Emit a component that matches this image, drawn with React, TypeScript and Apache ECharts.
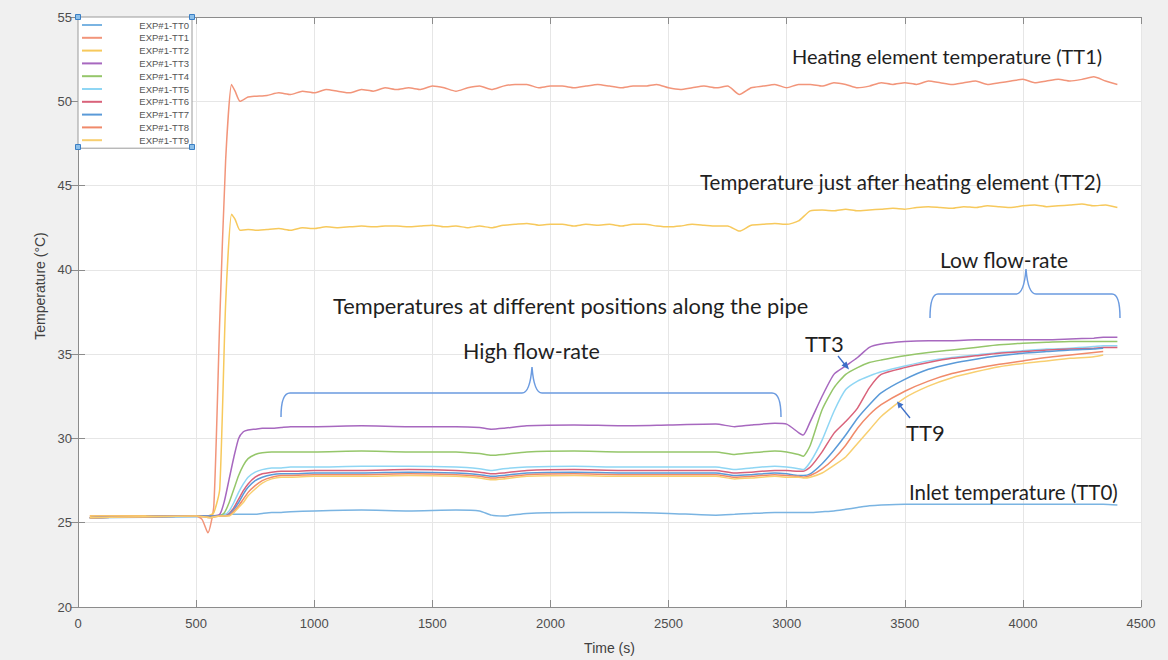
import React, { useEffect, useRef } from "react";
import * as echarts from "echarts";

const seriesNames = [
  "EXP#1-TT0", "EXP#1-TT1", "EXP#1-TT2", "EXP#1-TT3", "EXP#1-TT4",
  "EXP#1-TT5", "EXP#1-TT6", "EXP#1-TT7", "EXP#1-TT8", "EXP#1-TT9",
];
const seriesColors = [
  "#7ab4e2", "#f2957a", "#f7c95c", "#a768bf", "#95c66a",
  "#8fd6f4", "#d9627a", "#5a9ad8", "#f08a6a", "#f8cf70",
];

// time grid for heater curves (s)
const tFine = [
  50, 500, 525, 550, 575, 600, 625, 650, 665, 686, 720, 750,
  800, 850, 900, 950, 1000, 1050, 1100, 1150, 1200, 1250, 1300, 1350, 1400, 1450,
  1500, 1550, 1600, 1650, 1700, 1750, 1800, 1850, 1900, 1950, 2000, 2050, 2100, 2150,
  2200, 2250, 2300, 2350, 2400, 2450, 2500, 2550, 2600, 2650, 2700, 2750, 2800, 2850,
  2900, 2950, 3000, 3050, 3100, 3150, 3200, 3250, 3300, 3350, 3400, 3450, 3500, 3550,
  3600, 3650, 3700, 3750, 3800, 3850, 3900, 3950, 4000, 4050, 4100, 4150, 4200, 4250,
  4300, 4350, 4400,
];
const tt1 = [
  25.4, 25.4, 25.2, 24.4, 26.0, 37.0, 46.5, 51.0, 50.6, 50.0, 50.25, 50.3,
  50.35, 50.5, 50.4, 50.6, 50.5, 50.7, 50.6, 50.5, 50.7, 50.6, 50.8, 50.7, 50.8, 50.7,
  50.9, 50.8, 50.6, 50.8, 50.9, 50.7, 50.9, 51.0, 51.0, 50.8, 50.9, 50.9, 50.8, 50.9,
  51.0, 50.9, 50.8, 50.9, 50.9, 51.0, 50.8, 50.7, 50.8, 50.9, 50.8, 50.9, 50.4, 50.8,
  50.9, 51.0, 50.8, 51.0, 51.0, 50.9, 51.1, 51.0, 50.8, 50.9, 51.1, 51.0, 51.1, 51.0,
  51.2, 51.1, 51.0, 51.1, 51.2, 51.0, 51.1, 51.2, 51.3, 51.1, 51.2, 51.3, 51.2, 51.3,
  51.45, 51.2, 51.0,
];
const tt2 = [
  25.4, 25.4, 25.4, 25.4, 25.6, 27.0, 38.0, 43.3, 43.0, 42.35, 42.4, 42.35,
  42.4, 42.45, 42.35, 42.5, 42.45, 42.55, 42.5, 42.55, 42.6, 42.55, 42.6, 42.6, 42.55, 42.6,
  42.65, 42.55, 42.6, 42.5, 42.6, 42.5, 42.65, 42.7, 42.75, 42.65, 42.7, 42.7, 42.6, 42.7,
  42.65, 42.7, 42.6, 42.7, 42.7, 42.6, 42.55, 42.6, 42.7, 42.65, 42.6, 42.6, 42.3, 42.65,
  42.7, 42.75, 42.7, 42.9, 43.5, 43.55, 43.5, 43.6, 43.5, 43.55, 43.6, 43.65, 43.6, 43.7,
  43.75, 43.7, 43.65, 43.75, 43.7, 43.8, 43.75, 43.7, 43.8, 43.85, 43.75, 43.8, 43.85, 43.9,
  43.8, 43.85, 43.7,
];

// time grid for inlet and pipe curves (s)
const tPipe = [
  50, 500, 560, 600, 620, 640, 660, 680, 700, 720, 750, 780, 820, 860, 900,
  1000, 1200, 1400, 1600, 1700, 1750, 1800, 1900, 2100, 2300, 2500, 2700, 2780, 2850, 2950,
  3000, 3050, 3070, 3100, 3150, 3200, 3250, 3300, 3350, 3400, 3500, 3600, 3700, 3800, 3900,
  4000, 4100, 4200, 4300, 4340, 4400,
];
const tt0 = [
  25.3, 25.35, 25.4, 25.45, 25.5, 25.5, 25.5, 25.5, 25.5, 25.5, 25.5, 25.55, 25.6, 25.6, 25.65,
  25.7, 25.75, 25.7, 25.75, 25.7, 25.45, 25.4, 25.55, 25.6, 25.6, 25.55, 25.45, 25.5, 25.55, 25.6,
  25.6, 25.6, 25.6, 25.6, 25.65, 25.7, 25.8, 25.9, 26.0, 26.05, 26.1, 26.1, 26.1, 26.1, 26.1,
  26.1, 26.1, 26.1, 26.1, 26.1, 26.05,
];
const tt3 = [
  25.3, 25.4, 25.4, 25.5, 26.3, 27.6, 28.9, 30.0, 30.4, 30.5, 30.55, 30.6, 30.6, 30.65, 30.7,
  30.7, 30.75, 30.7, 30.7, 30.65, 30.55, 30.6, 30.75, 30.8, 30.75, 30.8, 30.85, 30.7, 30.8, 30.9,
  30.85, 30.35, 30.2, 31.0, 32.5, 33.8, 34.3, 34.8, 35.4, 35.6, 35.75, 35.8, 35.8, 35.85, 35.85,
  35.85, 35.85, 35.9, 35.95, 36.0, 36.0,
];
const tt4 = [
  25.3, 25.4, 25.4, 25.4, 25.6, 26.2, 27.0, 27.8, 28.4, 28.8, 29.05, 29.15, 29.2, 29.2, 29.2,
  29.2, 29.25, 29.2, 29.2, 29.1, 29.0, 29.05, 29.2, 29.25, 29.2, 29.2, 29.2, 29.05, 29.15, 29.25,
  29.2, 29.05, 28.95, 29.6, 31.7, 33.0, 33.8, 34.2, 34.5, 34.65, 34.9, 35.1, 35.25, 35.4, 35.55,
  35.65, 35.7, 35.75, 35.75, 35.75, 35.75,
];
const tt5 = [
  25.3, 25.4, 25.4, 25.4, 25.45, 25.7, 26.2, 26.8, 27.3, 27.7, 28.0, 28.15, 28.25, 28.25, 28.3,
  28.3, 28.35, 28.35, 28.3, 28.2, 28.1, 28.2, 28.3, 28.35, 28.3, 28.3, 28.3, 28.15, 28.25, 28.35,
  28.3, 28.2, 28.15, 28.6, 29.9, 31.6, 32.9, 33.4, 33.7, 33.95, 34.3, 34.6, 34.8, 34.95, 35.1,
  35.2, 35.3, 35.35, 35.45, 35.5, 35.5,
];
const tt6 = [
  25.3, 25.4, 25.4, 25.4, 25.4, 25.55, 25.9, 26.4, 26.9, 27.3, 27.7, 27.9, 28.0, 28.05, 28.05,
  28.1, 28.1, 28.15, 28.1, 28.0, 27.9, 27.95, 28.1, 28.15, 28.1, 28.1, 28.1, 27.95, 28.0, 28.1,
  28.1, 28.05, 28.05, 28.3, 29.2, 30.3, 31.0, 31.8, 33.0, 33.8, 34.2, 34.5, 34.75, 34.9, 35.05,
  35.15, 35.25, 35.3, 35.35, 35.4, 35.4,
];
const tt7 = [
  25.3, 25.4, 25.4, 25.4, 25.4, 25.5, 25.8, 26.2, 26.7, 27.1, 27.5, 27.7, 27.85, 27.9, 27.9,
  27.95, 27.95, 28.0, 27.95, 27.85, 27.75, 27.8, 27.95, 28.0, 27.95, 27.95, 27.95, 27.8, 27.85, 27.95,
  27.9, 27.8, 27.8, 27.9, 28.5, 29.3, 30.2, 31.2, 32.0, 32.7, 33.5, 34.1, 34.45, 34.7, 34.9,
  35.05, 35.15, 35.25, 35.3, 35.35, null,
];
const tt8 = [
  25.3, 25.4, 25.3, 25.4, 25.4, 25.45, 25.7, 26.0, 26.4, 26.8, 27.2, 27.5, 27.7, 27.8, 27.8,
  27.85, 27.85, 27.9, 27.85, 27.75, 27.65, 27.7, 27.85, 27.9, 27.85, 27.85, 27.85, 27.7, 27.75, 27.85,
  27.8, 27.75, 27.7, 27.8, 28.2, 28.8, 29.6, 30.6, 31.4, 32.0, 32.8, 33.4, 33.85, 34.15, 34.4,
  34.6, 34.8, 34.95, 35.1, 35.15, null,
];
const tt9 = [
  25.3, 25.4, 25.3, 25.4, 25.4, 25.4, 25.6, 25.9, 26.2, 26.6, 27.0, 27.35, 27.6, 27.7, 27.7,
  27.75, 27.75, 27.8, 27.75, 27.65, 27.55, 27.6, 27.75, 27.8, 27.75, 27.75, 27.75, 27.6, 27.65, 27.75,
  27.7, 27.7, 27.65, 27.7, 27.95, 28.4, 28.9, 29.7, 30.5, 31.3, 32.4, 33.1, 33.6, 33.95, 34.25,
  34.45, 34.6, 34.75, 34.85, 34.95, null,
];

const xAxisRange = { min: 0, max: 4500, interval: 500 };
const yAxisRange = { min: 20, max: 55, interval: 5 };

const annotationTexts = [
  "Heating element temperature (TT1)",
  "Temperature just after heating element (TT2)",
  "Low flow-rate",
  "Temperatures at different positions along the pipe",
  "High flow-rate",
  "TT3",
  "TT9",
  "Inlet temperature (TT0)",
];
const annotationPlacement = [
  { x: 792, y: 56, size: 20 },
  { x: 700, y: 182, size: 20.5 },
  { x: 940, y: 259, size: 21 },
  { x: 333, y: 305, size: 21.8 },
  { x: 463, y: 351, size: 21.5 },
  { x: 805, y: 343, size: 22 },
  { x: 906, y: 432, size: 22 },
  { x: 909, y: 492, size: 20.5 },
];

const zip = (t: number[], v: (number | null)[]) => t.map((x, i) => [x, v[i]]);

export default function App() {
  const ref = useRef<HTMLDivElement>(null);
  useEffect(() => {
    const el = ref.current!;
    echarts.graphic.registerShape(
      "braceHigh",
      echarts.graphic.extendPath(
        "M281,417 Q281,393 290,393 L522,393 Q530,393 532,367 Q534,393 542,393 L772,393 Q781,393 781,417",
        {}
      )
    );
    echarts.graphic.registerShape(
      "braceLow",
      echarts.graphic.extendPath(
        "M930,318 Q930,294 938,294 L1016,294 Q1024,294 1026,269 Q1028,294 1036,294 L1112,294 Q1120,294 1120,318",
        {}
      )
    );
    const chart = echarts.init(el, null, { renderer: "svg" });
    const data = [
      zip(tPipe, tt0), zip(tFine, tt1), zip(tFine, tt2), zip(tPipe, tt3), zip(tPipe, tt4),
      zip(tPipe, tt5), zip(tPipe, tt6), zip(tPipe, tt7), zip(tPipe, tt8), zip(tPipe, tt9),
    ];
    const axisLabelStyle = {
      color: "#4d4d4d", fontSize: 13, fontFamily: "Liberation Sans",
      formatter: (v: number) => String(v),
    };
    const lineColor = "#8c8c8c";
    const handle = (x: number, y: number) => ({
      type: "rect",
      shape: { x: x - 2.5, y: y - 2.5, width: 5, height: 5 },
      style: { fill: "#8dc0ea", stroke: "#3b7fc4", lineWidth: 1 },
      z: 100,
    });
    const option: any = {
      animation: false,
      backgroundColor: "#f0f0f0",
      color: seriesColors,
      grid: {
        left: 78, top: 17, width: 1063, height: 593,
        show: true, backgroundColor: "#ffffff", borderWidth: 0,
      },
      legend: {
        orient: "vertical",
        left: 78, top: 17,
        padding: [3, 3, 3, 4],
        icon: "rect",
        itemWidth: 20, itemHeight: 2, itemGap: 2.8,
        backgroundColor: "#ffffff",
        borderColor: "#9a9a9a", borderWidth: 1,
        data: seriesNames,
        formatter: "{a|{name}}",
        textStyle: {
          rich: {
            a: { width: 82, align: "right", fontSize: 9.5, lineHeight: 9.5, color: "#555", fontFamily: "Liberation Sans" },
          },
        },
        z: 50,
      },
      xAxis: [
        {
          type: "value", ...xAxisRange,
          name: "Time (s)", nameLocation: "middle", nameGap: 34,
          nameTextStyle: { color: "#404040", fontSize: 14, fontFamily: "Liberation Sans" },
          axisLine: { show: true, lineStyle: { color: lineColor } },
          axisTick: { show: true, inside: true, length: 7, lineStyle: { color: lineColor } },
          axisLabel: { ...axisLabelStyle, margin: 10 },
          splitLine: { show: true, lineStyle: { color: "#e6e6e6" } },
        },
        {
          type: "value", ...xAxisRange, position: "top",
          axisLine: { show: true, lineStyle: { color: lineColor } },
          axisTick: { show: true, inside: true, length: 7, lineStyle: { color: lineColor } },
          axisLabel: { show: false },
          splitLine: { show: false },
        },
      ],
      yAxis: [
        {
          type: "value", ...yAxisRange,
          name: "Temperature (°C)", nameLocation: "middle", nameGap: 30,
          nameTextStyle: { color: "#404040", fontSize: 14, fontFamily: "Liberation Sans", padding: [0, 0, 0, 52] },
          axisLine: { show: true, lineStyle: { color: lineColor } },
          axisTick: { show: true, inside: true, length: 7, lineStyle: { color: lineColor } },
          axisLabel: { ...axisLabelStyle, margin: 6 },
          splitLine: { show: true, lineStyle: { color: "#e6e6e6" } },
        },
        {
          type: "value", ...yAxisRange, position: "right",
          axisLine: { show: true, lineStyle: { color: lineColor } },
          axisTick: { show: true, inside: true, length: 7, lineStyle: { color: lineColor } },
          axisLabel: { show: false },
          splitLine: { show: false },
        },
      ],
      series: seriesNames.map((name, i) => ({
        name,
        type: "line",
        data: data[i],
        symbol: "none",
        smooth: 0.2,
        connectNulls: false,
        lineStyle: { width: 1.5, color: seriesColors[i] },
        itemStyle: { color: seriesColors[i] },
        z: 2 + i,
      })),
      graphic: [
        ...annotationTexts.map((text, i) => ({
          type: "text",
          x: annotationPlacement[i].x, y: annotationPlacement[i].y,
          z: 60,
          style: {
            text,
            fill: "#1f1f1f",
            font: `${annotationPlacement[i].size}px Lato`,
            align: "left",
            verticalAlign: "middle",
          },
        })),
        { type: "braceHigh", x: 0, y: 0, z: 60, style: { fill: "none", stroke: "#6b9be0", lineWidth: 1.5 } },
        { type: "braceLow", x: 0, y: 0, z: 60, style: { fill: "none", stroke: "#6b9be0", lineWidth: 1.5 } },
        { type: "line", z: 60, shape: { x1: 838, y1: 356, x2: 846, y2: 366 }, style: { stroke: "#3d6fc7", lineWidth: 1.3 } },
        { type: "polygon", z: 60, shape: { points: [[849, 369.5], [841.5, 365.5], [846.5, 361.5]] }, style: { fill: "#3d6fc7" } },
        { type: "line", z: 60, shape: { x1: 910, y1: 418, x2: 899.5, y2: 405 }, style: { stroke: "#3d6fc7", lineWidth: 1.3 } },
        { type: "polygon", z: 60, shape: { points: [[897, 401.5], [903.5, 404.5], [898.5, 408.5]] }, style: { fill: "#3d6fc7" } },
        handle(78, 17), handle(192, 17), handle(78, 147), handle(192, 147),
      ],
    };
    chart.setOption(option);
    return () => chart.dispose();
  }, []);
  return (
    <div
      ref={ref}
      style={{ position: "fixed", left: 0, top: 0, width: 1168, height: 660, background: "#f0f0f0" }}
    />
  );
}
